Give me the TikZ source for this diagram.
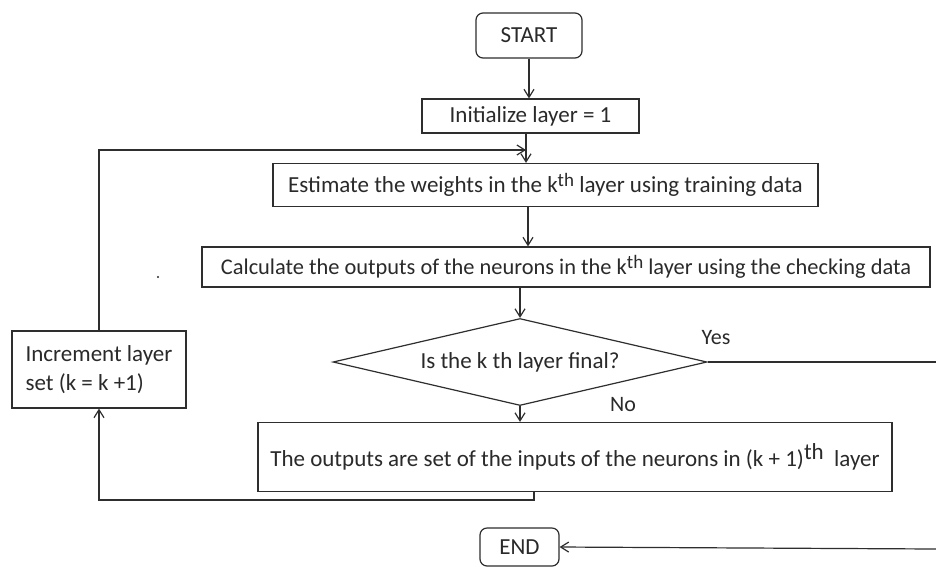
\documentclass[tikz,border=0pt]{standalone}
\usepackage{fontspec}
\setmainfont{Carlito}
\usetikzlibrary{shapes.geometric,arrows.meta}
\definecolor{linec}{HTML}{2E2E2E}
\definecolor{txtc}{HTML}{2A2A2A}
\newcommand{\thsup}{\raisebox{0.55ex}{\fontsize{19}{19}\selectfont th}}
\begin{document}
\begin{tikzpicture}[x=1pt,y=-1pt,
  box/.style={draw=linec, line width=1.2pt, rectangle, inner sep=0pt, text=txtc,
    font=\fontsize{23}{29}\selectfont},
  term/.style={box, rounded corners=7pt},
  decision/.style={box, diamond, aspect=4.3},
  lbl/.style={text=txtc, font=\fontsize{22}{25}\selectfont, inner sep=0pt},
  arr/.style={draw=linec, line width=1.2pt, -{Straight Barb[length=8pt,width=10pt]}},
  ln/.style={draw=linec, line width=1.2pt}]
\useasboundingbox (0,0) rectangle (936,566);
\fill[white] (0,0) rectangle (936,566);

\node[term, minimum width=106pt, minimum height=45pt] (start) at (529,35.5) {START};
\node[box, minimum width=217pt, minimum height=34pt] (init) at (530.5,116) {Initialize layer = 1\hspace{12pt}};
\node[box, minimum width=545pt, minimum height=43pt] (est) at (545.5,185)
  {\raisebox{5pt}{Estimate the weights in the k\thsup\ layer using training data}\hspace{6pt}};
\node[box, minimum width=728pt, minimum height=40pt, font=\fontsize{22.4}{27}\selectfont] (calc) at (566,267)
  {Calculate the outputs of the neurons in the k\thsup\ layer using the checking data};
\node[decision, minimum width=374pt, minimum height=87pt] (dia) at (520,362) {Is the k th layer final?};
\node[box, minimum width=634pt, minimum height=69pt] (out) at (575,457)
  {The outputs are set of the inputs of the neurons in (k + 1)\raisebox{0.7ex}{\fontsize{23}{23}\selectfont th}\ \ layer};
\node[box, minimum width=174pt, minimum height=77pt, align=left] (inc) at (99,369.5)
  {Increment layer\\ set (k = k +1)\hspace{12pt}};
\node[term, minimum width=79pt, minimum height=38pt] (end) at (519.5,547) {END};

\node[lbl] (yes) at (716,338) {Yes};
\node[lbl] (no) at (623,405) {No};

\coordinate (join) at (526,150);
\coordinate (yesend) at (936,362);
\coordinate (endsrc) at (936,549);
\coordinate (loopstart) at (534,491);
\fill[txtc] (158,277) circle (1.2pt);

\draw[arr] (start.south) -- (start.south |- init.north);
\draw[arr] (init.south -| join) -- (join |- est.north);
\draw[arr] (est.south -| 528,0) -- (528,0 |- calc.north);
\draw[arr] (calc.south -| dia.north) -- (dia.north);
\draw[arr] (dia.south) -- (dia.south |- out.north);
\draw[ln] (dia.east) -- (yesend);
\draw[arr] (endsrc) -- (end.east);
\draw[arr] (loopstart) -- ++(0,9) -| (inc.south);
\draw[arr] (inc.north) |- (join);
\end{tikzpicture}
\end{document}
